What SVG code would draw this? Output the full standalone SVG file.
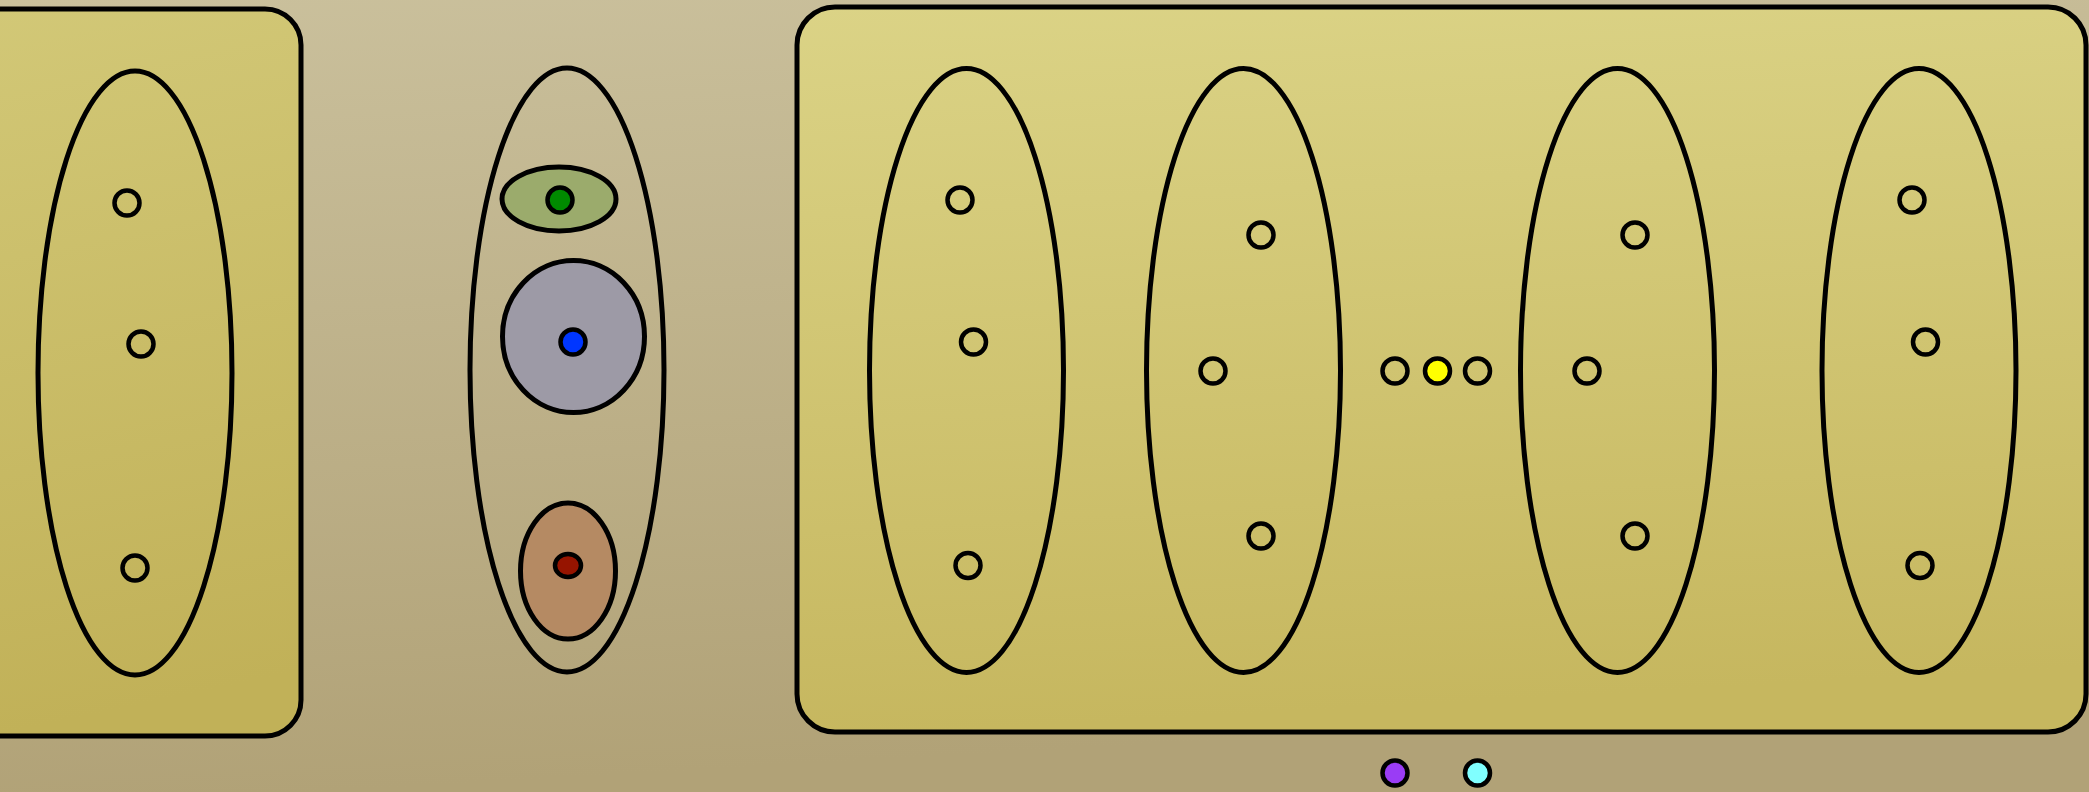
<svg xmlns="http://www.w3.org/2000/svg" width="2089" height="792" viewBox="0 0 2089 792">
<defs>
<linearGradient id="bg" x1="0" y1="0" x2="0.15" y2="1">
<stop offset="0" stop-color="#cac09c"/>
<stop offset="1" stop-color="#b1a277"/>
</linearGradient>
<linearGradient id="box" x1="0" y1="0" x2="0.1" y2="1">
<stop offset="0" stop-color="#dbd386"/>
<stop offset="1" stop-color="#c6b75f"/>
</linearGradient>
<linearGradient id="boxL" x1="0" y1="0" x2="0.1" y2="1">
<stop offset="0" stop-color="#d2c877"/>
<stop offset="1" stop-color="#c1b158"/>
</linearGradient>
<style>
.b{stroke:#000;stroke-width:5;fill:none}
.pt{stroke:#000;stroke-width:4.5;fill:none}
.dot{stroke:#000;stroke-width:4.5}
</style>
</defs>
<rect x="0" y="0" width="2089" height="792" fill="url(#bg)"/>
<g id="leftBox">
<rect x="-40" y="9" width="341" height="727" rx="36" ry="36" class="b" style="fill:url(#boxL)"/>
<ellipse cx="135" cy="373" rx="97" ry="302" class="b"/>
<circle cx="127" cy="203" r="12.5" class="pt"/>
<circle cx="141" cy="344" r="12.5" class="pt"/>
<circle cx="135" cy="568" r="12.5" class="pt"/>
</g>
<g id="middle">
<ellipse cx="567" cy="370" rx="97" ry="302" class="b"/>
<ellipse cx="559" cy="199" rx="57" ry="32" fill="#9bab6c" stroke="#000" stroke-width="5"/>
<circle cx="560" cy="200" r="12.5" fill="#008a00" class="dot"/>
<ellipse cx="573.5" cy="336.5" rx="71" ry="76" fill="#9d9aa6" stroke="#000" stroke-width="5"/>
<circle cx="573" cy="342" r="12.5" fill="#0036ff" class="dot"/>
<ellipse cx="568" cy="571" rx="47.5" ry="68" fill="#b58a63" stroke="#000" stroke-width="5"/>
<ellipse cx="568" cy="565.5" rx="13" ry="11.5" fill="#961400" class="dot"/>
</g>
<g id="rightBox">
<rect x="797" y="7" width="1289" height="725" rx="38" ry="38" class="b" style="fill:url(#box)"/>
<g id="set1">
<ellipse cx="966.5" cy="370.5" rx="97" ry="302" class="b"/>
<circle cx="960" cy="200" r="12.5" class="pt"/>
<circle cx="973.5" cy="342" r="12.5" class="pt"/>
<circle cx="968" cy="565.5" r="12.5" class="pt"/>
</g>
<g id="set2">
<ellipse cx="1243.5" cy="370.5" rx="97" ry="302" class="b"/>
<circle cx="1261" cy="235" r="12.5" class="pt"/>
<circle cx="1213" cy="371" r="12.5" class="pt"/>
<circle cx="1261" cy="536" r="12.5" class="pt"/>
</g>
<g id="chain">
<circle cx="1395" cy="371" r="12.5" class="pt"/>
<circle cx="1437.5" cy="371" r="12.5" fill="#ffff00" class="dot"/>
<circle cx="1477.5" cy="371" r="12.5" class="pt"/>
</g>
<g id="set3">
<ellipse cx="1617.5" cy="370.5" rx="97" ry="302" class="b"/>
<circle cx="1635" cy="235" r="12.5" class="pt"/>
<circle cx="1587" cy="371" r="12.5" class="pt"/>
<circle cx="1635" cy="536" r="12.5" class="pt"/>
</g>
<g id="set4">
<ellipse cx="1919" cy="370.5" rx="97" ry="302" class="b"/>
<circle cx="1912" cy="200" r="12.5" class="pt"/>
<circle cx="1925.5" cy="342" r="12.5" class="pt"/>
<circle cx="1920" cy="565.5" r="12.5" class="pt"/>
</g>
</g>
<g id="legend">
<circle cx="1395" cy="773" r="12.5" fill="#9a3cf5" class="dot"/>
<circle cx="1477.5" cy="773" r="12.5" fill="#80ffff" class="dot"/>
</g>
<g id="connectors"/>
</svg>
